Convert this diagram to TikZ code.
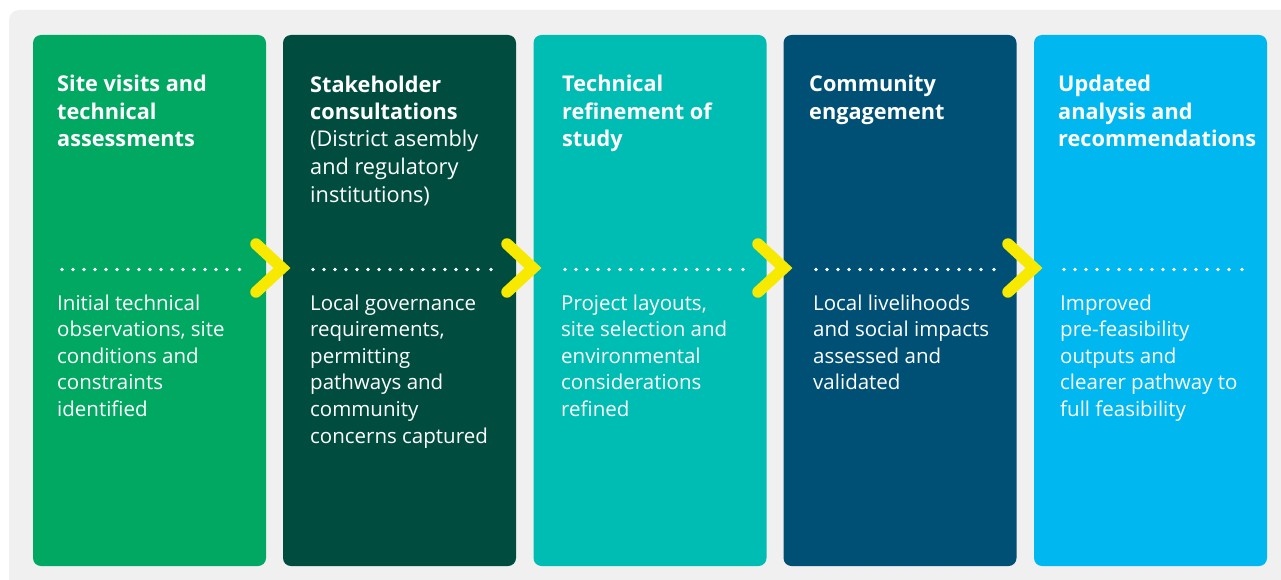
\documentclass[tikz,border=0pt]{standalone}
\usepackage{fontspec}
\setmainfont{Open Sans}

\definecolor{bggray}{HTML}{F0F0F0}
\definecolor{stepgreen}{HTML}{00A862}
\definecolor{stepdark}{HTML}{004D40}
\definecolor{stepteal}{HTML}{00BDB3}
\definecolor{stepnavy}{HTML}{005075}
\definecolor{stepsky}{HTML}{00B7EF}
\definecolor{chevyellow}{HTML}{F7EA00}

\begin{document}
\begin{tikzpicture}[x=1pt,y=-1pt,
  card/.style={rectangle,rounded corners=8pt,minimum width=233pt,minimum height=531pt,inner sep=0pt},
  steptitle/.style={anchor=base west,align=left,inner sep=0pt,text=white,font=\fontsize{21.7}{27.5}\selectfont\bfseries},
  steptext/.style={anchor=base west,align=left,inner sep=0pt,text=white,font=\fontsize{20.5}{26.6}\selectfont},
  dotrule/.style={white,line width=3.6pt,line cap=round,dash pattern=on 0pt off 11pt},
  chevron/.style={chevyellow,line width=11.5pt,line cap=round,line join=miter}]

\useasboundingbox (0,0) rectangle (1281,580);
\fill [bggray,rounded corners=10pt] (9,10) rectangle (1300,600);

\node [card,fill=stepgreen] (c1) at (149.5,300.5) {};
\node [card,fill=stepdark] (c2) at (399.5,300.5) {};
\node [card,fill=stepteal] (c3) at (650,300.5) {};
\node [card,fill=stepnavy] (c4) at (900,300.5) {};
\node [card,fill=stepsky] (c5) at (1150.5,300.5) {};

% titles: placed at the baseline of their last line
\node [steptitle] (t1) at (57,147) {Site visits and\\technical\\assessments};
\node [steptitle] (t2) at (310,202) {Stakeholder\\consultations\\\textmd{(District asembly}\\\textmd{and regulatory}\\\textmd{institutions)}};
\node [steptitle] (t3) at (562,147) {Technical\\refinement of\\study};
\node [steptitle] (t4) at (809,119.5) {Community\\engagement};
\node [steptitle] (t5) at (1058,147) {Updated\\analysis and\\recommendations};

\draw [dotrule] (62,269.5) -- (229,269.5);
\draw [dotrule] (313,269.5) -- (480,269.5);
\draw [dotrule] (565,269.5) -- (732,269.5);
\draw [dotrule] (816,269.5) -- (983,269.5);
\draw [dotrule] (1064,269.5) -- (1231,269.5);
\fill [white] (239.5,269.5) circle [radius=1.8];
\fill [white] (491,269.5) circle [radius=1.8];
\fill [white] (743,269.5) circle [radius=1.8];
\fill [white] (994,269.5) circle [radius=1.8];
\fill [white] (1242,269.5) circle [radius=1.8];

\node [steptext] (b1) at (57,416.4) {Initial technical\\observations, site\\conditions and\\constraints\\identified};
\node [steptext] (b2) at (310,443) {Local governance\\requirements,\\permitting\\pathways and\\community\\concerns captured};
\node [steptext] (b3) at (561,416.4) {Project layouts,\\site selection and\\environmental\\considerations\\refined};
\node [steptext] (b4) at (813,389.8) {Local livelihoods\\and social impacts\\assessed and\\validated};
\node [steptext] (b5) at (1060,416.4) {Improved\\pre-feasibility\\outputs and\\clearer pathway to\\full feasibility};

\coordinate (k1) at (282,268);
\coordinate (k2) at (533,268);
\coordinate (k3) at (784,268);
\coordinate (k4) at (1034,268);
\draw [chevron] ([shift={(-26,-24)}]k1) -- (k1) -- ([shift={(-26,24)}]k1);
\draw [chevron] ([shift={(-26,-24)}]k2) -- (k2) -- ([shift={(-26,24)}]k2);
\draw [chevron] ([shift={(-26,-24)}]k3) -- (k3) -- ([shift={(-26,24)}]k3);
\draw [chevron] ([shift={(-26,-24)}]k4) -- (k4) -- ([shift={(-26,24)}]k4);

\end{tikzpicture}
\end{document}
